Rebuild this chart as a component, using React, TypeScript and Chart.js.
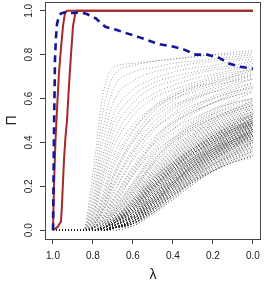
import React, { useEffect, useRef } from 'react';
import { Chart, registerables } from 'chart.js';

Chart.register(...registerables);

// Axis ticks
const X_TICKS = [1.0, 0.8, 0.6, 0.4, 0.2, 0.0];
const Y_TICKS = [0.0, 0.2, 0.4, 0.6, 0.8, 1.0];

// Blue dashed path
const BLUE_LAMBDA = [1.0, 0.997, 0.995, 0.99, 0.985, 0.98, 0.97, 0.96, 0.94, 0.92, 0.9, 0.86, 0.83, 0.8, 0.787, 0.738, 0.68, 0.63, 0.574, 0.508, 0.459, 0.401, 0.344, 0.286, 0.228, 0.17, 0.12, 0.063, 0.0];
const BLUE_PI = [0.0, 0.25, 0.45, 0.78, 0.88, 0.94, 0.975, 0.988, 0.993, 0.99, 0.99, 0.993, 0.985, 0.97, 0.966, 0.927, 0.912, 0.897, 0.881, 0.86, 0.846, 0.837, 0.823, 0.8, 0.8, 0.786, 0.76, 0.745, 0.736];

// Red solid paths
const RED1_LAMBDA = [1.0, 0.995, 0.988, 0.98, 0.97, 0.96, 0.95, 0.94, 0.93, 0.0];
const RED1_PI = [0.0, 0.2, 0.4, 0.55, 0.72, 0.83, 0.93, 0.99, 1.0, 1.0];
const RED2_LAMBDA = [1.0, 0.977, 0.96, 0.955, 0.95, 0.945, 0.938, 0.93, 0.92, 0.91, 0.9, 0.89, 0.88, 0.0];
const RED2_PI = [0.0, 0.015, 0.04, 0.12, 0.22, 0.32, 0.42, 0.5, 0.66, 0.8, 0.93, 0.98, 1.0, 1.0];

// Gray dotted paths (values in percent), sampled at GRAY_LAMBDA
const GRAY_LAMBDA = [1.0, 0.85, 0.8, 0.75, 0.7, 0.6, 0.5, 0.4, 0.3, 0.2, 0.1, 0.0];
const GRAY_FAST = [
  [0,0,26,62,74,76,77,78,79,80,81,82],
  [0,0,20,54,70,75,77,78,79,80,80,81],
  [0,0,15,46,64,72,74,76,77,78,79,80],
  [0,0,12,40,58,68,72,74,76,77,78,79],
  [0,0,10,34,52,64,69,72,74,75,77,78],
  [0,0,8,30,48,61,67,70,72,74,75,77],
  [0,0,7,26,44,58,65,68,71,73,74,76],
  [0,0,6,24,40,55,62,66,69,71,73,75],
  [0,0,5,21,37,52,60,64,67,70,72,73],
  [0,0,4,17,33,48,56,61,65,67,69,71],
];
const GRAY_UPPER = [
  [0,0,4,15,30,46,55,60,63,66,68,70],
  [0,0,3,14,28,45,56,62,66,69,71,74],
  [0,0,3,13,25,42,54,61,65,68,70,72],
  [0,0,2,11,24,41,51,57,60,63,65,67],
  [0,0,2,10,23,40,52,59,64,67,70,73],
  [0,0,2,11,21,37,49,56,61,65,68,71],
  [0,0,2,9,20,36,46,52,57,60,63,65],
  [0,0,2,8,19,35,47,55,60,64,67,69],
  [0,0,1,9,17,33,45,53,59,63,66,69],
  [0,0,1,7,16,32,42,49,54,58,61,63],
  [0,0,1,6,14,29,41,50,56,61,64,67],
  [0,0,1,6,14,28,39,46,51,55,58,60],
  [0,0,1,5,13,27,40,49,55,60,63,66],
  [0,0,1,5,12,26,39,48,54,58,62,65],
  [0,0,1,5,11,25,36,44,50,55,59,63],
  [0,0,1,4,10,25,37,46,53,58,61,64],
];
const GRAY_MIDDLE = [
  [0,0,1,4,10,22,35,42,48,53,57,60],
  [0,0,1,4,9,21,33,41,47,51,54,57],
  [0,0,0,3,9,21,34,42,49,54,58,60],
  [0,0,1,3,8,20,32,40,46,51,55,58],
  [0,0,0,3,8,19,31,41,48,53,56,59],
  [0,0,0,3,8,19,30,38,45,50,54,57],
  [0,0,1,3,7,18,31,40,47,52,55,58],
  [0,0,0,2,7,18,29,37,44,49,53,56],
  [0,0,0,2,7,17,30,39,46,51,55,59],
  [0,0,0,2,6,17,28,36,43,48,52,55],
  [0,0,0,2,6,16,27,37,44,50,54,57],
  [0,0,0,2,6,16,27,35,42,47,51,54],
  [0,0,0,2,6,15,26,35,43,49,53,56],
  [0,0,0,2,5,15,26,34,41,46,50,53],
  [0,0,0,2,5,14,25,34,42,48,52,55],
  [0,0,0,1,5,14,24,33,40,45,49,52],
  [0,0,0,1,5,14,25,33,41,47,51,54],
  [0,0,0,1,5,13,23,32,39,45,49,53],
  [0,0,0,1,4,13,24,33,40,46,50,52],
  [0,0,0,1,4,13,23,31,38,44,49,53],
  [0,0,0,1,4,12,22,31,39,45,50,54],
  [0,0,0,1,4,12,22,30,37,43,47,50],
  [0,0,0,1,4,12,21,30,38,44,48,51],
  [0,0,0,1,4,11,21,30,37,43,48,52],
  [0,0,0,1,3,11,21,29,36,42,46,49],
  [0,0,0,1,3,11,20,29,37,43,48,53],
  [0,0,0,1,3,11,20,28,35,41,45,48],
  [0,0,0,1,3,10,20,29,36,42,47,50],
  [0,0,0,1,3,10,19,28,35,41,46,51],
  [0,0,0,1,3,10,19,27,34,40,44,47],
  [0,0,0,1,3,10,20,28,36,42,46,49],
  [0,0,0,1,3,12,23,32,39,44,47,49],
  [0,0,0,1,4,13,22,29,35,40,44,48],
  [0,0,0,1,3,11,22,31,38,43,46,48],
  [0,0,0,1,4,14,24,31,37,42,47,51],
];
const GRAY_DENSE = [
  [0,0,0,2,5,12,23,31,37,42,46,50],
  [0,0,0,1,4,11,22,30,37,43,48,52],
  [0,0,0,1,4,11,21,29,35,40,44,47],
  [0,0,0,1,4,10,21,30,36,41,45,49],
  [0,0,0,1,4,10,20,28,35,41,46,50],
  [0,0,0,1,3,10,20,27,33,38,42,45],
  [0,0,0,1,3,9,19,28,35,40,45,49],
  [0,0,0,1,3,9,19,27,34,39,43,46],
  [0,0,0,1,3,9,18,27,34,40,45,50],
  [0,0,0,1,3,9,18,26,32,37,41,44],
  [0,0,0,1,3,8,18,26,33,39,44,48],
  [0,0,0,1,3,8,17,25,32,37,41,45],
  [0,0,0,1,3,8,17,26,33,39,43,47],
  [0,0,0,1,3,8,17,25,31,36,40,43],
  [0,0,0,0,2,8,16,25,32,38,43,48],
  [0,0,0,0,2,7,16,24,31,36,40,44],
  [0,0,0,0,2,7,16,24,32,38,43,47],
  [0,0,0,0,2,7,15,23,30,35,39,42],
  [0,0,0,0,2,7,15,24,31,37,42,46],
  [0,0,0,0,2,7,15,23,29,34,38,41],
  [0,0,0,0,2,6,15,23,30,36,41,45],
  [0,0,0,0,2,6,14,22,29,35,39,43],
  [0,0,0,0,2,6,14,23,30,36,41,46],
  [0,0,0,0,2,6,14,22,28,33,37,40],
  [0,0,0,0,2,6,14,22,29,35,40,44],
  [0,0,0,0,2,6,13,21,28,34,39,43],
  [0,0,0,0,2,6,13,21,29,35,41,47],
  [0,0,0,0,1,5,13,21,27,32,36,39],
  [0,0,0,0,1,5,13,21,28,34,39,44],
  [0,0,0,0,1,5,13,20,27,33,38,42],
  [0,0,0,0,1,5,12,20,28,34,40,45],
  [0,0,0,0,1,5,12,20,26,31,35,38],
  [0,0,0,0,1,5,12,19,26,32,37,41],
  [0,0,0,0,1,5,12,20,27,33,38,43],
  [0,0,0,0,1,5,12,19,25,30,34,37],
  [0,0,0,0,1,4,11,19,26,32,37,42],
  [0,0,0,0,1,4,11,19,27,34,40,46],
  [0,0,0,0,1,4,11,18,25,30,34,38],
  [0,0,0,0,1,4,11,18,25,31,36,40],
  [0,0,0,0,1,4,11,19,26,32,38,44],
  [0,0,0,0,1,4,10,18,24,29,33,36],
  [0,0,0,0,1,4,10,17,24,30,35,40],
  [0,0,0,0,1,4,10,18,25,32,38,43],
  [0,0,0,0,1,3,10,17,23,28,32,35],
  [0,0,0,0,1,3,10,17,24,30,35,39],
  [0,0,0,0,1,3,9,16,23,29,35,41],
  [0,0,0,0,1,3,9,16,22,27,31,34],
  [0,0,0,0,1,3,9,16,23,29,34,38],
  [0,0,0,0,1,3,9,16,24,31,37,42],
  [0,0,0,0,1,4,10,17,23,27,31,34],
  [0,0,0,0,1,3,8,15,22,28,33,37],
  [0,0,0,0,1,3,8,15,22,28,34,40],
  [0,0,0,0,1,3,10,16,22,27,31,33],
  [0,0,0,0,1,2,8,14,21,27,32,36],
  [0,0,0,0,0,2,8,15,23,30,36,41],
  [0,0,0,0,1,3,9,16,22,27,31,34],
  [0,0,0,0,0,2,7,14,21,27,32,36],
  [0,0,0,0,1,3,9,17,25,32,38,44],
  [0,0,0,0,1,4,12,21,29,36,41,46],
  [0,0,0,0,1,3,10,18,26,33,39,45],
  [0,0,0,1,3,9,18,27,35,41,46,51],
  [0,0,0,1,3,8,17,26,34,40,45,49],
  [0,0,0,0,2,7,16,25,32,38,43,47],
  [0,0,0,0,2,7,15,24,31,37,42,46],
  [0,0,0,0,2,6,15,23,31,37,42,47],
  [0,0,0,0,2,6,14,22,30,36,41,45],
  [0,0,0,0,1,5,13,22,29,35,40,44],
  [0,0,0,0,1,5,13,21,28,34,39,43],
  [0,0,0,0,1,5,12,21,29,36,42,48],
  [0,0,0,0,1,4,12,20,27,33,38,42],
  [0,0,0,0,1,4,11,19,27,34,40,45],
  [0,0,0,0,1,4,11,20,28,35,41,46],
  [0,0,0,1,3,9,19,28,35,41,45,48],
  [0,0,0,1,3,8,18,27,33,38,42,46],
  [0,0,0,0,2,7,17,26,33,39,44,49],
  [0,0,0,0,2,6,16,25,33,40,46,51],
  [0,0,0,0,2,6,14,23,31,38,44,49],
  [0,0,0,0,1,5,13,22,30,37,43,48],
  [0,0,0,0,1,5,14,22,29,35,40,45],
  [0,0,0,0,1,4,12,21,30,37,43,49],
  [0,0,0,1,4,10,20,29,37,43,48,52],
  [0,0,0,1,3,9,19,28,36,42,47,51],
  [0,0,0,0,2,7,16,24,31,37,41,45],
  [0,0,0,0,2,6,15,24,32,39,45,50],
];

const X_TITLE = 'λ';
const Y_TITLE = 'Π';

const FONT = "'Liberation Sans', Arial, Helvetica, sans-serif";
const AXIS_COLOR = '#444';
const TEXT_COLOR = '#222';

export default function App() {
  const ref = useRef<HTMLCanvasElement>(null);

  useEffect(() => {
    if (!ref.current) return;

    const datasets: any[] = [];
    datasets.push({
      data: BLUE_LAMBDA.map((x, i) => ({ x, y: BLUE_PI[i] })),
      borderColor: '#14149a',
      borderWidth: 2.6,
      borderDash: [7, 5],
      tension: 0,
      pointRadius: 0,
    });
    datasets.push({
      data: RED1_LAMBDA.map((x, i) => ({ x, y: RED1_PI[i] })),
      borderColor: '#a52a2a',
      borderWidth: 2,
      tension: 0,
      pointRadius: 0,
    });
    datasets.push({
      data: RED2_LAMBDA.map((x, i) => ({ x, y: RED2_PI[i] })),
      borderColor: '#a52a2a',
      borderWidth: 2,
      tension: 0,
      pointRadius: 0,
    });
    [...GRAY_FAST, ...GRAY_UPPER, ...GRAY_MIDDLE, ...GRAY_DENSE].forEach((path) => {
      datasets.push({
        data: GRAY_LAMBDA.map((x, i) => ({ x, y: path[i] / 100 })),
        borderColor: 'rgba(30,30,30,0.42)',
        borderWidth: 1,
        borderDash: [1, 2],
        cubicInterpolationMode: 'monotone',
        pointRadius: 0,
      });
    });

    const framePlugin = {
      id: 'frame',
      afterDraw(chart: any) {
        const { ctx, chartArea } = chart;
        const ys = chart.scales.y;
        ctx.save();
        ctx.strokeStyle = AXIS_COLOR;
        ctx.lineWidth = 1;
        ctx.strokeRect(
          Math.round(chartArea.left) + 0.5,
          Math.round(chartArea.top) + 0.5,
          Math.round(chartArea.right - chartArea.left) - 1,
          Math.round(chartArea.bottom - chartArea.top)
        );
        ctx.fillStyle = TEXT_COLOR;
        ctx.font = `10px ${FONT}`;
        ctx.textAlign = 'center';
        ctx.textBaseline = 'middle';
        Y_TICKS.forEach((t) => {
          const py = ys.getPixelForValue(t);
          ctx.save();
          ctx.translate(29, py);
          ctx.rotate(-Math.PI / 2);
          ctx.fillText(t.toFixed(1), 0, 0);
          ctx.restore();
        });
        ctx.restore();
      },
    };

    const chart = new Chart(ref.current, {
      type: 'line',
      data: { datasets },
      options: {
        animation: false,
        responsive: false,
        devicePixelRatio: 1,
        layout: { padding: { top: 2, right: 3, left: 0, bottom: 0 } },
        plugins: { legend: { display: false }, tooltip: { enabled: false } },
        scales: {
          x: {
            type: 'linear',
            reverse: true,
            min: -0.04,
            max: 1.04,
            afterBuildTicks: (scale: any) => {
              scale.ticks = X_TICKS.map((v) => ({ value: v }));
            },
            afterFit: (scale: any) => {
              scale.height = 46;
            },
            grid: { drawOnChartArea: false, drawTicks: true, tickLength: 5, color: AXIS_COLOR },
            border: { display: false },
            ticks: {
              autoSkip: false,
              maxRotation: 0,
              minRotation: 0,
              padding: 6,
              color: TEXT_COLOR,
              font: { family: FONT, size: 10 },
              callback: (v: any) => Number(v).toFixed(1),
            },
            title: {
              display: true,
              text: X_TITLE,
              color: TEXT_COLOR,
              font: { family: FONT, size: 14 },
              padding: { top: 0, bottom: 1 },
            },
          },
          y: {
            type: 'linear',
            min: -0.04,
            max: 1.04,
            afterBuildTicks: (scale: any) => {
              scale.ticks = Y_TICKS.map((v) => ({ value: v }));
            },
            afterFit: (scale: any) => {
              scale.width = 45;
            },
            grid: { drawOnChartArea: false, drawTicks: true, tickLength: 5, color: AXIS_COLOR },
            border: { display: false },
            ticks: { display: false },
            title: {
              display: true,
              text: Y_TITLE,
              color: TEXT_COLOR,
              font: { family: FONT, size: 14 },
              padding: { top: 4, bottom: 0 },
            },
          },
        },
      },
      plugins: [framePlugin],
    });

    return () => chart.destroy();
  }, []);

  return (
    <div style={{ position: 'absolute', left: 0, top: 0, width: 266, height: 285 }}>
      <canvas ref={ref} width={266} height={285} style={{ width: 266, height: 285 }} />
    </div>
  );
}
